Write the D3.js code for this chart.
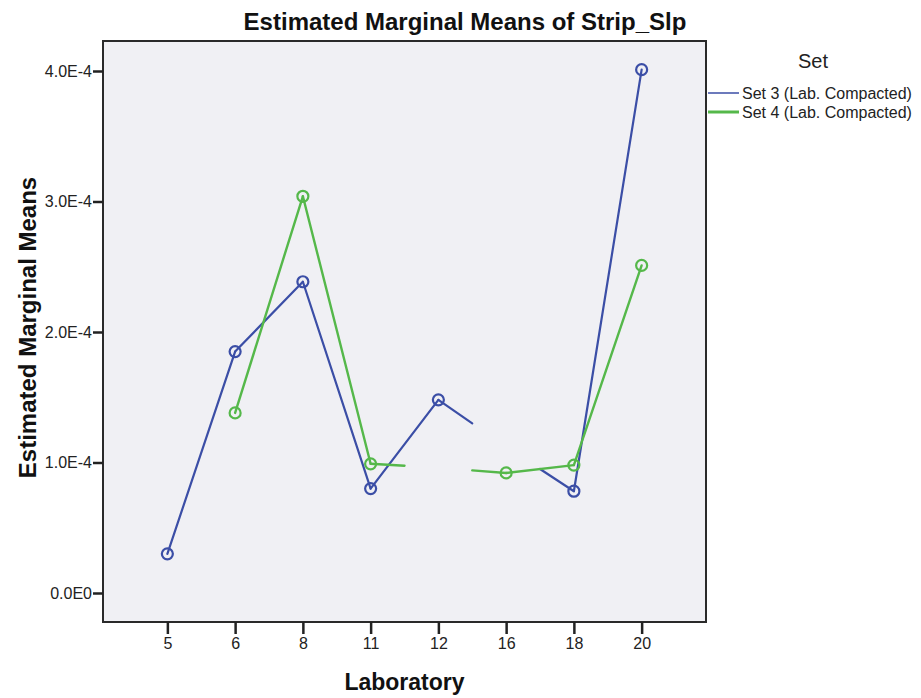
<!DOCTYPE html>
<html><head><meta charset="utf-8">
<script src="https://cdn.jsdelivr.net/npm/d3@7"></script>
<style>body{margin:0;background:#fff;} svg{display:block;font-family:"Liberation Sans",Arial,sans-serif;}</style>
</head><body>
<svg id="c" width="921" height="698"></svg>
<script>
// Data
const laboratories = ["5","6","8","11","12","16","18","20"];
const set3Values = [0.30e-4, 1.85e-4, 2.385e-4, 0.80e-4, 1.48e-4, 1.12e-4, 0.78e-4, 4.01e-4];
const set4Values = [null, 1.38e-4, 3.04e-4, 0.99e-4, 0.96e-4, 0.92e-4, 0.98e-4, 2.51e-4];
const set3Hidden = ["16"];   // points drawn without a marker, line only half-way
const set4Hidden = ["12"];
const yTicks = [0, 1e-4, 2e-4, 3e-4, 4e-4];
const yTickLabels = ["0.0E0", "1.0E-4", "2.0E-4", "3.0E-4", "4.0E-4"];
const seriesNames = ["Set 3 (Lab. Compacted)", "Set 4 (Lab. Compacted)"];

const series = [
  {name: seriesNames[0], values: set3Values, hidden: set3Hidden, color: "#3b4ea6", width: 2.2},
  {name: seriesNames[1], values: set4Values, hidden: set4Hidden, color: "#55b84a", width: 2.4}
];

const svg = d3.select("#c");
const L = 103, R = 706, T = 41, B = 622;

const x = d3.scalePoint().domain(laboratories).range([L, R]).padding(0.95);
const y = d3.scaleLinear().domain([0, 4e-4]).range([593, 71]);

// plot background
svg.append("rect").attr("x", L).attr("y", T).attr("width", R - L).attr("height", B - T)
  .attr("fill", "#f0f0f4");

// series
series.forEach(s => {
  const g = svg.append("g");
  const pts = laboratories.map((lab, i) => ({lab, v: s.values[i], hidden: s.hidden.includes(lab)}));
  for (let i = 0; i < pts.length - 1; i++) {
    const a = pts[i], b = pts[i + 1];
    if (a.v == null || b.v == null) continue;
    if (a.hidden && b.hidden) continue;
    let x1 = x(a.lab), y1 = y(a.v), x2 = x(b.lab), y2 = y(b.v);
    if (a.hidden) { x1 = (x1 + x2) / 2; y1 = (y1 + y2) / 2; }
    if (b.hidden) { x2 = (x1 + x2) / 2; y2 = (y1 + y2) / 2; }
    g.append("line").attr("x1", x1).attr("y1", y1).attr("x2", x2).attr("y2", y2)
      .attr("stroke", s.color).attr("stroke-width", s.width).attr("stroke-linecap", "round");
  }
  g.selectAll("circle").data(pts.filter(p => p.v != null && !p.hidden)).join("circle")
    .attr("cx", p => x(p.lab)).attr("cy", p => y(p.v)).attr("r", 5.5)
    .attr("fill", "none").attr("stroke", s.color).attr("stroke-width", 2.2);
});

// frame
svg.append("rect").attr("x", L).attr("y", T).attr("width", R - L).attr("height", B - T)
  .attr("fill", "none").attr("stroke", "#2a2a2a").attr("stroke-width", 2);

// y axis
const yAxis = d3.axisLeft(y).tickValues(yTicks).tickSize(10).tickPadding(1)
  .tickFormat((d, i) => yTickLabels[i]);
const ga = svg.append("g").attr("transform", `translate(${L},0)`).call(yAxis);
ga.attr("font-size", 16).attr("font-family", "Liberation Sans, Arial, sans-serif");
ga.select(".domain").remove();
ga.selectAll(".tick line").attr("stroke", "#222").attr("stroke-width", 2.5);
ga.selectAll(".tick text").attr("font-size", 16).attr("fill", "#222");

// x axis
const xAxis = d3.axisBottom(x).tickSize(12).tickPadding(4);
const gx = svg.append("g").attr("transform", `translate(0,${B})`).call(xAxis);
gx.attr("font-size", 16).attr("font-family", "Liberation Sans, Arial, sans-serif");
gx.select(".domain").remove();
gx.selectAll(".tick line").attr("stroke", "#222").attr("stroke-width", 2.5);
gx.selectAll(".tick text").attr("font-size", 16).attr("fill", "#222");

// titles
svg.append("text").attr("x", 465).attr("y", 30).attr("text-anchor", "middle")
  .attr("font-size", 24).attr("font-weight", "bold").attr("fill", "#111")
  .text("Estimated Marginal Means of Strip_Slp");
svg.append("text").attr("x", (L + R) / 2).attr("y", 690).attr("text-anchor", "middle")
  .attr("font-size", 23).attr("font-weight", "bold").attr("fill", "#111")
  .text("Laboratory");
svg.append("text").attr("transform", `translate(36,${(T + B) / 2 - 4}) rotate(-90)`)
  .attr("text-anchor", "middle").attr("font-size", 24).attr("font-weight", "bold").attr("fill", "#111")
  .text("Estimated Marginal Means");

// legend
svg.append("text").attr("x", 813).attr("y", 68).attr("text-anchor", "middle")
  .attr("font-size", 20).attr("fill", "#222").text("Set");
series.forEach((s, i) => {
  const ly = 93 + i * 19;
  svg.append("line").attr("x1", 708).attr("x2", 739).attr("y1", ly).attr("y2", ly)
    .attr("stroke", s.color).attr("stroke-width", i === 0 ? 1.5 : 3);
  svg.append("text").attr("x", 742).attr("y", ly + 5.5).attr("font-size", 16).attr("fill", "#222")
    .text(s.name);
});
</script>
</body></html>
